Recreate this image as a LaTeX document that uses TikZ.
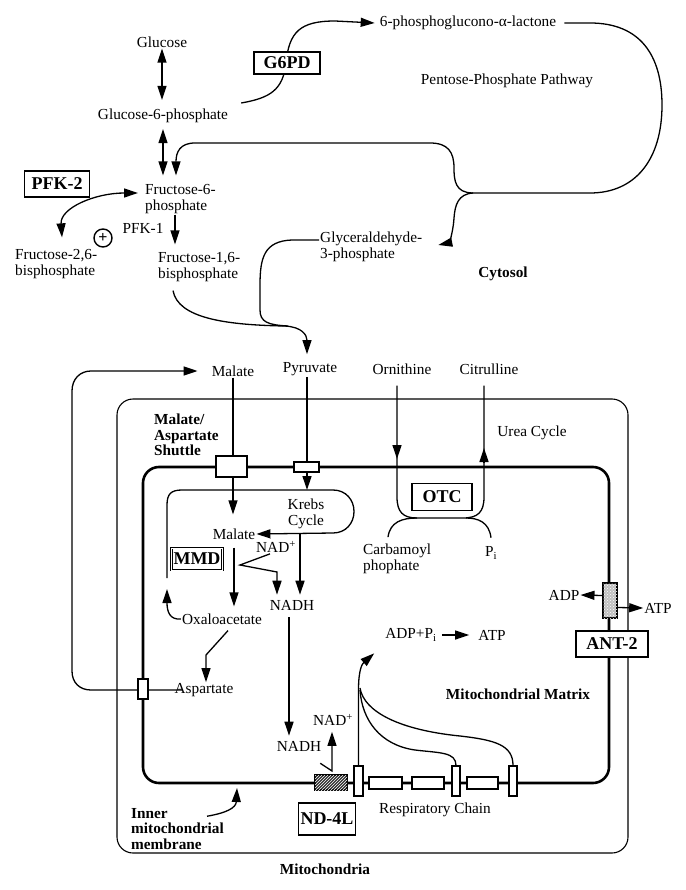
\documentclass[tikz,border=0pt]{standalone}
\usepackage{fontspec}
\setmainfont{Liberation Serif}
\usetikzlibrary{arrows.meta,patterns,calc}
\begin{document}
\begin{tikzpicture}[x=1pt,y=-1pt,
  every node/.style={font=\fontsize{15.3}{15.5}\selectfont, inner sep=1pt},
  bld/.style={font=\fontsize{15.3}{15.5}\selectfont\bfseries},
  enz/.style={draw, fill=white, line width=1.4pt, font=\fontsize{18}{18}\selectfont\bfseries, inner sep=2pt},
  ln/.style={line width=1.3pt},
  arr/.style={ln, -{Triangle[length=14pt,width=9pt]}},
  dbl/.style={ln, {Triangle[length=14pt,width=9pt]}-{Triangle[length=14pt,width=9pt]}},
  memb/.style={line width=2.6pt},
  outm/.style={line width=1.1pt},
  tbox/.style={draw, fill=white, line width=1.3pt, inner sep=0pt}
]
\useasboundingbox (0,0) rectangle (685,890);

% ---------------- cytosol ----------------
\node (glc) at (162,42) {Glucose};
\node (g6p) at (163,116) {Glucose-6-phosphate};
\node (lac) at (468,23) {6-phosphoglucono-α-lactone};
\node (ppp) at (507,81) {Pentose-Phosphate Pathway};
\node[align=left, anchor=west] (gap) at (319,247) {Glyceraldehyde-\\3-phosphate};
\node[bld] (cyt) at (503,274) {Cytosol};
\node[align=left, anchor=west] (f6p) at (144,199) {Fructose-6-\\phosphate};
\node[align=left, anchor=west] (f26) at (14,264) {Fructose-2,6-\\bisphosphate};
\node[circle, draw, line width=1.4pt, minimum size=18pt, inner sep=0pt, font=\fontsize{16}{16}\selectfont\bfseries] (plus) at (103,238) {+};
\node (pfk1) at (143,228) {PFK-1};
\node[align=left, anchor=west] (f16) at (157,267) {Fructose-1,6-\\bisphosphate};
\coordinate (J) at (473,193);

\draw[dbl, shorten >=8pt] (glc.south) -- (glc.south |- g6p.north);
\draw[dbl, shorten <=5pt, shorten >=8pt] (g6p.south) -- (g6p.south |- f6p.north);
\draw[arr] ([xshift=12,yshift=13]g6p.east) .. controls (270,98) and (283,90) .. (286,63)
   .. controls (289,32) and (300,21) .. (335,21) -- ([xshift=-4]lac.west);
\node[enz, minimum width=66pt, minimum height=22pt] (g6pd) at (287,63) {G6PD};
\draw[ln] ([xshift=7]lac.east) -- (590,23) .. controls (640,23) and (662,55) .. (662,105)
   .. controls (662,160) and (635,193) .. (590,193) -- (J);
\draw[arr, shorten >=8pt] (J) .. controls (455,193) and (454,180) .. (454,168)
   .. controls (454,152) and (448,143) .. (430,143) -- (195,143)
   .. controls (180,143) and (176,152) .. (176,0 |- f6p.north);
\draw[arr] (J) .. controls (458,194) and (455,205) .. (454,218)
   .. controls (453,235) and (448,243) .. ([xshift=15,yshift=2]gap.east);
\draw[ln] ([yshift=7]gap.west) -- (292,240) .. controls (264,241) and (260,258) .. (260,285)
   -- (260,310) .. controls (260,322) and (268,325) .. (288,326);
\node (pyr) at (310,369) {Pyruvate};
\draw[arr, shorten >=7pt] ([xshift=16,yshift=-8]f16.south west) .. controls (178,318) and (225,325) .. (285,326)
   .. controls (302,327) and (307,335) .. (307,0 |- pyr.north);
\draw[arr, shorten >=7pt] (175,0 |- f6p.south) -- (175,0 |- f16.north);
\draw[dbl] ([xshift=48,yshift=11]f26.north west) .. controls (60,208) and (95,193) .. ([xshift=-6,yshift=6]f6p.west);
\node[enz, minimum width=65pt, minimum height=26pt] (pfk2) at (57,184) {PFK-2};

% ---------------- mitochondria ----------------
\node (malT) at (233,371) {Malate};
\node (orn) at (402,369) {Ornithine};
\node (cit) at (489,369) {Citrulline};
\node[bld, align=left, anchor=west] (shut) at (153,435) {Malate/\\Aspartate\\Shuttle};
\node (urea) at (532,433) {Urea Cycle};
\draw[outm, rounded corners=16pt] (117,399) rectangle (628,853);
\draw[memb, rounded corners=16pt] (143,467) rectangle (609,783);

\node (malI) at (234,534) {Malate};
\node[align=center] (krebs) at (306,514) {Krebs\\Cycle};
\node (nad1) at (276,547) {NAD\textsuperscript{+}};
\node (nadh1) at (292,605) {NADH};
\node (oxa) at (222,619) {Oxaloacetate};
\node (asp) at (204,690) {Aspartate};
\node (nadh2) at (299,746) {NADH};
\node (nad2) at (333,720) {NAD\textsuperscript{+}};
\node (rc) at (435,810) {Respiratory Chain};
\node (adpp) at (411,635) {ADP+P\textsubscript{i}};
\node (atp1) at (492,635) {ATP};
\node[bld] (mm) at (518,694) {Mitochondrial Matrix};
\node[align=left, anchor=west] (carb) at (362,559) {Carbamoyl\\phophate};
\node (pi) at (491,553) {P\textsubscript{i}};
\node (adp2) at (564,595) {ADP};
\node (atp2) at (658,608) {ATP};
\node[bld, align=left, anchor=west] (imm) at (130,829) {Inner\\mitochondrial\\membrane};
\node[bld] (mito) at (325,869) {Mitochondria};
\coordinate (ktop) at (307,490);
\coordinate (kl) at (167,578);
\coordinate (kbot) at (300,533);
\coordinate (kup) at (167,589);
\coordinate (membpt) at (237,788);

% lines passing through transporters
\draw[arr, shorten >=13pt] (malT.south) -- (malT.south |- malI.north);
\draw[arr] (ktop |- pyr.south) -- (ktop);
\draw[arr, shorten <=-9pt] (asp.west) -- (91,690) .. controls (80,690) and (72,683) .. (72,671)
   -- (72,391) .. controls (72,379) and (80,371) .. (91,371) -- ([xshift=-13]malT.west);

% transporters and chain
\node[tbox, minimum width=31pt, minimum height=21pt] (mbox) at (231.5,466.5) {};
\node[tbox, minimum width=25pt, minimum height=10pt] (pbox) at (306.5,467) {};
\node[tbox, minimum width=10pt, minimum height=20pt] (abox) at (143,689) {};
\node[tbox, fill=gray!50, postaction={pattern=crosshatch dots, pattern color=white}, minimum width=14pt, minimum height=35pt] (ant) at (610,600.5) {};
\node[enz, minimum width=72pt, minimum height=26pt] (ant2) at (612,644) {ANT-2};
\node[tbox, fill=black!80, postaction={pattern=north east lines, pattern color=white}, minimum width=32pt, minimum height=15pt] (ndh) at (331,782.5) {};
\node[tbox, minimum width=9pt, minimum height=30pt] (r1) at (358.5,781) {};
\node[tbox, minimum width=33pt, minimum height=12pt] (r2) at (385.5,783) {};
\node[tbox, minimum width=32pt, minimum height=12pt] (r3) at (428,783) {};
\node[tbox, minimum width=8pt, minimum height=30pt] (r4) at (456,781) {};
\node[tbox, minimum width=31pt, minimum height=12pt] (r5) at (482.5,783) {};
\node[tbox, minimum width=8pt, minimum height=30pt] (r6) at (513,781) {};
\node[enz, minimum width=57pt, minimum height=32pt] (nd4l) at (327,819) {ND-4L};
\node[enz, minimum width=50pt, minimum height=22pt, line width=0.6pt, double, double distance=1pt] (mmd) at (197,559) {MMD};
\node[enz, minimum width=60pt, minimum height=27pt] (otc) at (442,497) {OTC};

% Krebs loop
\draw[arr] (kl) -- (167,505) .. controls (167,494) and (171,490) .. (182,490) -- (333,490)
   .. controls (346,490) and (354,500) .. (354,511.5) .. controls (354,523) and (346,533) .. (333,533) -- (malI.east);
\draw[arr, shorten >=4pt] (kbot) -- (300,0 |- nadh1.north);
\draw[arr, shorten >=4pt] ([xshift=-6]nad1.south) -- (240,565) -- (277,572) -- (277,0 |- nadh1.north);
\draw[arr, shorten <=7pt, shorten >=6pt] (malI.south) -- (malI.south |- oxa.north);
\draw[arr] (oxa.west) .. controls (170,620) and (167,612) .. (kup);
\draw[arr] ([xshift=6,yshift=-5]oxa.south) -- (206,655) -- (206,0 |- asp.north);

% urea cycle
\draw[ln, shorten <=10pt, shorten >=10pt] (397,0 |- orn.south) -- (397,497) .. controls (397,512) and (403,518) .. (417,518)
   -- (463,518) .. controls (478,518) and (484,512) .. (484,497) -- (484,0 |- cit.south);
\draw[arr] (397,445) -- (397,459);
\draw[arr] (484,462) -- (484,448);
\draw[ln] ([xshift=26,yshift=6]carb.north west) .. controls (390,522) and (402,518) .. (417,518);
\draw[ln] ([yshift=8]pi.north) .. controls (489,522) and (478,518) .. (466,518);

% oxidative phosphorylation
\draw[arr, shorten <=4pt, shorten >=8pt] (adpp.east) -- (atp1.west);
\draw[arr, shorten <=6pt, shorten >=4pt] (289,0 |- nadh1.south) -- (289,0 |- nadh2.north);
\draw[arr, shorten >=5pt] ([xshift=-2,yshift=-11]nadh2.south east) -- (332,771) -- (332,0 |- nad2.south);
\draw[arr] (r1.north) -- (358.5,690) .. controls (358.5,670) and (362,664) .. ([xshift=-10,yshift=-11]adpp.south west);
\draw[ln] (r4.north) .. controls (456,752) and (440,753) .. (415,750) .. controls (380,745) and (362,720) .. (360,690);
\draw[ln] (r6.north) .. controls (513,745) and (495,740) .. (460,736) .. controls (400,730) and (364,712) .. (360,688);
\draw[arr] ([yshift=5]ant.west) -- (adp2.east);
\draw[arr] ([yshift=-7]ant.east) -- (atp2.west);
\draw[arr] ([xshift=77,yshift=-9]imm.north west) .. controls (226,813) and (236,808) .. (membpt);
\end{tikzpicture}
\end{document}
